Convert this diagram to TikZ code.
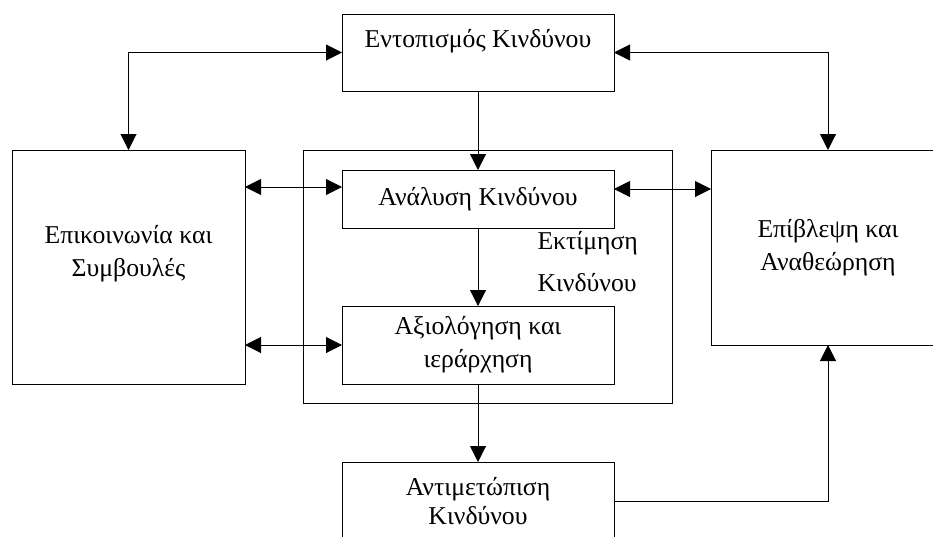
\documentclass[tikz,border=0pt]{standalone}
\usepackage{fontspec}
\setmainfont{Liberation Serif}
\usetikzlibrary{arrows.meta}

\tikzset{
    box/.style={draw, line width=1pt, inner sep=0pt, outer sep=0pt, align=center,
        font=\fontsize{25.7}{33}\selectfont},
}

\begin{document}
\begin{tikzpicture}[x=1pt, y=-1pt, line width=1pt, >={Triangle[length=16pt,width=16pt]}]
                \useasboundingbox (0, 0) rectangle (933, 536);
                \clip (0, 0) rectangle (933, 536);

                \node[box, minimum width=369pt, minimum height=253pt] (assess) at (487.5, 276.5) {};
                \node[box, minimum width=272pt, minimum height=77pt] (ident) at (478, 52.5) {Εντοπισμός Κινδύνου\\[-4pt]\mbox{}};
                \node[box, minimum width=233pt, minimum height=234pt] (comm) at (128.5, 267) {Επικοινωνία και\\Συμβουλές\\\mbox{}};
                \node[box, minimum width=234pt, minimum height=195pt] (monit) at (828, 247.5) {Επίβλεψη και\\Αναθεώρηση};
                \node[box, minimum width=272pt, minimum height=58pt] (analysis) at (478, 199) {Ανάλυση Κινδύνου};
                \node[box, minimum width=272pt, minimum height=78pt] (evaluation) at (478, 345) {Αξιολόγηση και\\ιεράρχηση};
                \node[box, minimum width=272pt, minimum height=78pt] (treatment) at (478, 501) {Αντιμετώπιση\\[-4pt]Κινδύνου};
                \node[anchor=north west, inner sep=0pt, align=left, font=\fontsize{25.7}{33}\selectfont] (assesslabel) at (537, 231) {Εκτίμηση\\[9pt]Κινδύνου};

                \draw [<->] (ident.west) -| (comm.north);
                \draw [<->] (ident.east) -| (monit.north);
                \draw [->] (ident.south) -- (analysis.north);
                \draw [->] (analysis.south) -- (evaluation.north);
                \draw [->] (evaluation.south) -- (treatment.north);
                \draw [->] (treatment.east) -| (monit.south);

                \draw [<->] ([yshift=12pt]analysis.west) -- ([yshift=12pt]analysis.west -| comm.east);
                \draw [<->] ([yshift=10pt]analysis.east) -- ([yshift=10pt]analysis.east -| monit.west);
                \draw [<->] (evaluation.west) -- (evaluation.west -| comm.east);
            \end{tikzpicture}
\end{document}
